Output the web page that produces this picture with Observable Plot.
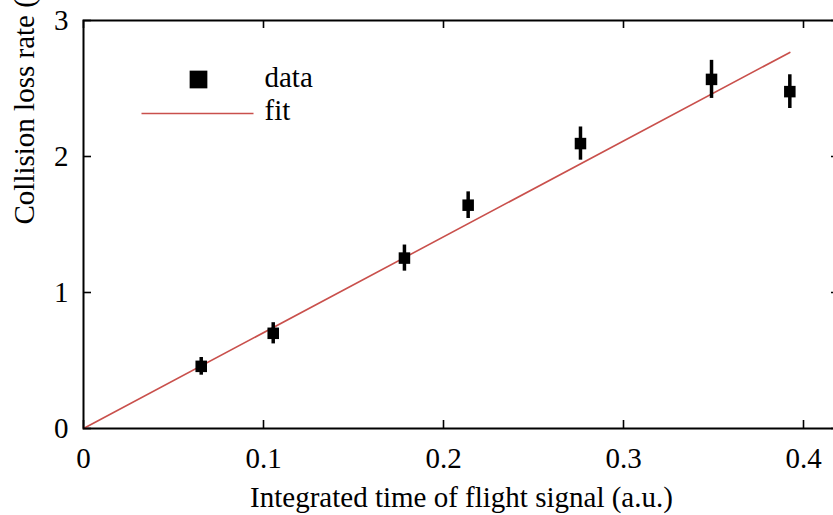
<!DOCTYPE html>
<html>
<head>
<meta charset="utf-8">
<script src="https://cdn.jsdelivr.net/npm/d3@7"></script>
<script src="https://cdn.jsdelivr.net/npm/@observablehq/plot@0.6"></script>
<style>
html, body { margin: 0; padding: 0; overflow: hidden; background: #fff; }
</style>
</head>
<body>
<div id="chart"></div>
<script>
// Data
const xSignal = [0.0654, 0.1054, 0.1783, 0.2137, 0.2761, 0.3489, 0.3924];
const lossRate = [0.457, 0.700, 1.253, 1.642, 2.095, 2.567, 2.477];
const lossErr = [0.065, 0.078, 0.096, 0.098, 0.122, 0.140, 0.124];
const fitX = [0, 0.3924];
const fitY = [0, 2.765];
const xTicks = [0, 0.1, 0.2, 0.3, 0.4];
const yTicks = [0, 1, 2, 3];
const xTitle = "Integrated time of flight signal (a.u.)";
const yTitle = "Collision loss rate (%/RT)";
const legendLabels = ["data", "fit"];

const points = xSignal.map((x, i) => ({x, y: lossRate[i], e: lossErr[i]}));
const fit = fitX.map((x, i) => ({x, y: fitY[i]}));

const W = 833, H = 515;
const mL = 83, mR = -6, mT = 20, mB = 87;
const plotW = W - mL - mR, plotH = H - mT - mB;
const tickLen = 8;
const red = "#c9504c";
const serif = "serif";

const lineSymbol = {
  draw(context) { context.moveTo(-56, 0); context.lineTo(56, 0); }
};

const chart = Plot.plot({
  width: W, height: H,
  marginLeft: mL, marginRight: mR, marginTop: mT, marginBottom: mB,
  style: {fontSize: "29px", background: "white", color: "black"},
  x: {domain: [0, 0.42]},
  y: {domain: [0, 3]},
  marks: [
    Plot.axisX({anchor: "bottom", ticks: xTicks, tickSize: 0, tickPadding: 19, fontFamily: serif,
      tickFormat: d => d === 0 ? "0" : d.toFixed(1), label: null}),
    Plot.axisY({anchor: "left", ticks: yTicks, tickSize: 0, tickPadding: 15, fontFamily: serif,
      tickFormat: d => String(d), label: null}),
    // inward ticks on all four sides
    Plot.tickX(xTicks, {x: d => d, insetTop: plotH - tickLen, stroke: "black", strokeWidth: 1.6}),
    Plot.tickX(xTicks, {x: d => d, insetBottom: plotH - tickLen, stroke: "black", strokeWidth: 1.6}),
    Plot.tickY(yTicks, {y: d => d, insetRight: plotW - tickLen, stroke: "black", strokeWidth: 1.6}),
    Plot.tickY(yTicks, {y: d => d, insetLeft: plotW - tickLen, stroke: "black", strokeWidth: 1.6}),
    // fit line
    Plot.line(fit, {x: "x", y: "y", stroke: red, strokeWidth: 1.6}),
    // error bars and data squares
    Plot.ruleX(points, {x: "x", y1: d => d.y - d.e, y2: d => d.y + d.e, stroke: "black", strokeWidth: 3.5}),
    Plot.dot(points, {x: "x", y: "y", symbol: "square", r: 6.5, fill: "black", stroke: "none"}),
    // frame
    Plot.frame({stroke: "black", strokeWidth: 2}),
    // axis titles
    Plot.text([xTitle], {frameAnchor: "bottom", dy: 78, lineAnchor: "bottom", fontFamily: serif, text: d => d}),
    Plot.text([yTitle], {frameAnchor: "left", dx: -50, rotate: -90, lineAnchor: "bottom", fontFamily: serif, text: d => d}),
    // legend
    Plot.dot([legendLabels[0]], {frameAnchor: "top-left", dx: 115, dy: 59, symbol: "square", r: 10, fill: "black", stroke: "none"}),
    Plot.text([legendLabels[0]], {frameAnchor: "top-left", dx: 181, dy: 66, textAnchor: "start", lineAnchor: "bottom", fontFamily: serif, text: d => d}),
    Plot.dot([legendLabels[1]], {frameAnchor: "top-left", dx: 114, dy: 93, symbol: lineSymbol, stroke: red, strokeWidth: 1.6, fill: "none"}),
    Plot.text([legendLabels[1]], {frameAnchor: "top-left", dx: 181, dy: 99, textAnchor: "start", lineAnchor: "bottom", fontFamily: serif, text: d => d})
  ]
});
document.getElementById("chart").appendChild(chart);
</script>
</body>
</html>
